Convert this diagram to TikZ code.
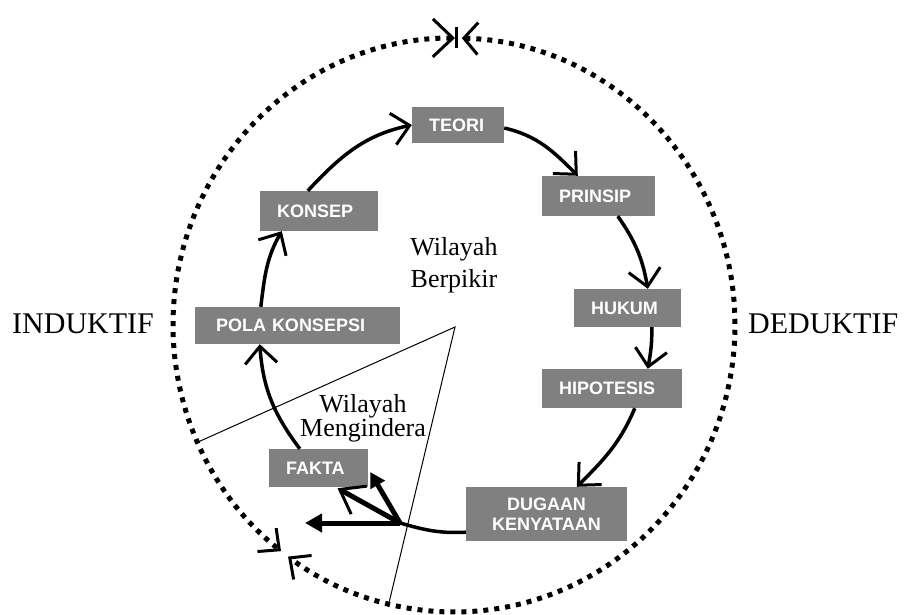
\documentclass[tikz,border=0pt]{standalone}
\usepackage{fontspec}
\setmainfont{Liberation Serif}
\newfontfamily\boxfont{Liberation Sans}
\usetikzlibrary{arrows.meta}
\definecolor{boxgray}{HTML}{808080}
\begin{document}
\begin{tikzpicture}[x=1pt,y=1pt,
  box/.style={fill=boxgray, text=white, font=\boxfont\bfseries\fontsize{18}{20}\selectfont,
    inner ysep=0pt, inner xsep=17pt, align=left},
  flow/.style={line width=3.5pt, -{Straight Barb[length=17pt,width=32pt,line width=3pt]}},
  plainflow/.style={line width=3.5pt},
  hubarrow/.style={line width=5pt},
  dotline/.style={line width=5pt, dash pattern=on 5pt off 6pt},
  dotbarb/.style={Straight Barb[length=16pt,width=34pt,line width=3pt]},
  bigword/.style={font=\fontsize{30}{36}\selectfont, inner sep=0pt},
  region/.style={align=center, inner sep=0pt},
  thinline/.style={line width=1pt}
]
\useasboundingbox (0,0) rectangle (909,614);

% boxes
\node[box, text width=58pt, minimum height=36pt] (teori) at (458,489) {TEORI};
\node[box, text width=79pt, minimum height=40pt] (prinsip) at (598.5,418) {PRINSIP};
\node[box, text width=73pt, minimum height=38pt] (hukum) at (627.5,306) {HUKUM};
\node[box, text width=106pt, minimum height=39pt] (hipotesis) at (612,225.5) {HIPOTESIS};
\node[box, text width=127pt, minimum height=54pt, align=center] (dugaan) at (546.5,100) {DUGAAN\\KENYATAAN};
\node[box, text width=65pt, minimum height=38pt] (fakta) at (318.5,146) {FAKTA};
\node[box, text width=163pt, inner xsep=21pt, minimum height=37pt] (pola) at (297.5,288.5) {POLA KONSEPSI};
\node[box, text width=84pt, minimum height=40pt] (konsep) at (319,403) {KONSEP};

% texts
\node[bigword, anchor=base west] (induktif) at (12,281) {INDUKTIF};
\node[bigword, anchor=base west] (deduktif) at (748,281) {DEDUKTIF};
\node[region, font=\fontsize{26}{32}\selectfont] (berpikir) at (454,349) {Wilayah\\Berpikir};
\node[region, font=\fontsize{26}{24}\selectfont] (mengindera) at (363,196) {Wilayah\\Mengindera};

% thin region lines
\coordinate (apex) at (455,287);
\coordinate (tl) at (198,172);
\coordinate (tb) at (388,7);
\draw[thinline] (tl) -- (apex) -- (tb);

% dotted outer ellipse
\coordinate (oc) at (454,289);
\draw[dotline, {Straight Barb[length=20pt,width=38pt,line width=3pt]}-{Straight Barb[length=16pt,width=30pt,line width=3pt]}]
  (oc) ++(89.8:281 and 287) arc[start angle=89.8, end angle=232, x radius=281, y radius=287];
\draw[dotline, {Straight Barb[length=14pt,width=32pt,line width=3pt]}-{Straight Barb[length=16pt,width=30pt,line width=3pt]}]
  (oc) ++(88.4:281 and 287) arc[start angle=88.4, end angle=-126.2, x radius=281, y radius=287];
\draw[line width=3pt] (456,566) -- (456,587);

% cycle connectors
\draw[flow] ([xshift=48pt]konsep.north west) to[out=47,in=192] (teori.west);
\draw[flow] ([yshift=-3pt]teori.east) to[out=-13,in=135] ([xshift=36pt]prinsip.north west);
\draw[flow] ([xshift=76pt]prinsip.south west) to[out=-55,in=100] ([xshift=74pt]hukum.north west);
\draw[flow] ([xshift=78pt]hukum.south west) to[out=-89,in=80] ([xshift=106pt]hipotesis.north west);
\draw[flow] ([xshift=93pt]hipotesis.south west) to[out=-113,in=45] ([xshift=111pt]dugaan.north west);
\coordinate (hub) at (400,91);
\draw[plainflow] ([yshift=9pt]dugaan.south west) to[out=-177,in=-16] (hub);
\draw[flow] ([xshift=31pt]fakta.north west) to[out=127,in=-86] ([xshift=65pt]pola.south west);
\draw[flow] ([xshift=66pt]pola.north west) to[out=83,in=240] ([xshift=22pt]konsep.south west);

% hub arrows
\coordinate (leftend) at (305,91);
\draw[hubarrow, -{Triangle[length=17pt,width=18pt]}] (hub) -- (leftend);
\draw[hubarrow, -{Straight Barb[length=22pt,width=32pt,line width=3pt]}] (hub) -- ([xshift=19pt,yshift=-1pt]fakta.south);
\draw[hubarrow, -{Triangle[length=15pt,width=16pt]}] (hub) -- ([xshift=2pt,yshift=-4pt]fakta.east);
\end{tikzpicture}
\end{document}
